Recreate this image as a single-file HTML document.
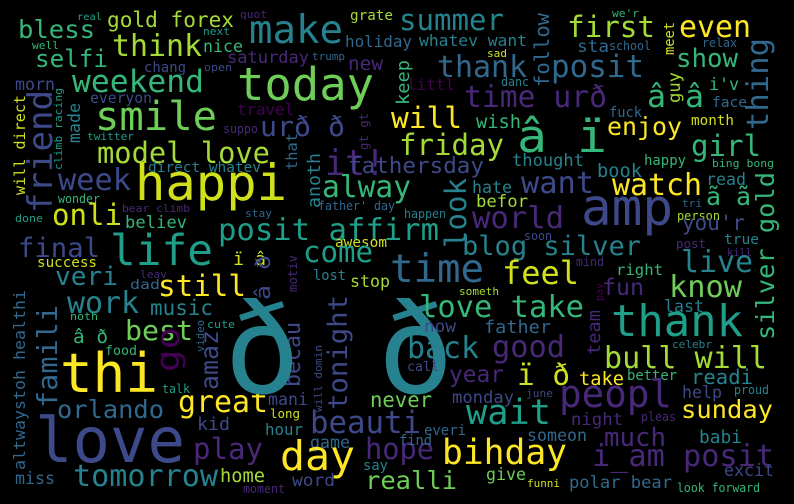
<!DOCTYPE html>
<html><head><meta charset="utf-8">
<style>
html,body{margin:0;padding:0;background:#000;}
svg{display:block;}
text{font-family:"DejaVu Sans Mono","Liberation Mono",monospace;}
</style></head>
<body>
<svg id="cloud" width="794" height="504" viewBox="0 0 794 504">
<rect width="794" height="504" fill="#000"/>
</svg>
<script>
const palette = {Y:"#fde725",y:"#d0e11c",L:"#a5db36",G:"#6ece58",g:"#35b779",T:"#1f9e89",t:"#26828e",B:"#31688e",b:"#3e4989",P:"#482878",p:"#440154"};
// [text, x, y, width, fontSize, color, vertical]
const words = [
["bless",18,38,77,25,"g",0],["gold forex",107,27,127,21,"L",0],["real",77,20,25,10,"T",0],
["quot",240,18,27,11,"P",0],["next",203,35,27,11,"T",0],["well",32,49,27,11,"g",0],
["nice",203,52,40,17,"g",0],["think",112,56,90,30,"L",0],["make",249,43,94,39,"t",0],
["selfi",35,67,73,24,"g",0],["saturday",227,63,82,17,"P",0],["trump",312,60,33,11,"B",0],
["holiday",345,47,67,16,"B",0],["grate",350,20,43,14,"L",0],["new",348,70,35,19,"P",0],
["chang",144,72,42,14,"b",0],["open",204,71,28,11,"b",0],["weekend",72,92,132,31,"g",0],
["today",237,100,137,45,"G",0],["morn",15,90,40,17,"b",0],["everyon",90,103,62,15,"b",0],
["smile",95,130,122,40,"G",0],["urð ð",260,136,85,28,"b",0],["travel",237,115,57,16,"p",0],
["suppo",223,133,35,12,"P",0],["twitter",87,140,47,11,"T",0],
["will direct",25,195,100,15,"y",1],["friend",52,213,123,34,"b",1],["climb racing",62,170,82,11,"T",1],
["made",80,143,40,17,"t",1],["model love",97,163,173,29,"L",0],["direct whatev",148,172,113,14,"t",0],
["week",58,190,73,30,"b",0],["happi",135,200,152,50,"y",0],["it!",325,175,60,36,"P",0],
["alway",322,197,89,30,"g",0],["fathersday",348,173,136,22,"b",0],["anoth",320,208,55,18,"t",1],
["that",297,170,37,15,"B",1],["gt gt",368,150,37,12,"P",1],["keep",409,105,45,18,"g",1],
["wonder",58,203,42,12,"g",0],["done",15,222,28,11,"T",0],["onli",52,225,70,29,"y",0],
["bear climb",122,212,68,11,"P",0],["believ",125,228,62,17,"g",0],["stay",245,217,27,11,"B",0],
["father' day",318,210,77,12,"B",0],["posit affirm",218,240,221,30,"T",0],["awesom",335,247,52,14,"y",0],
["final",18,257,82,27,"b",0],["life",110,265,103,43,"T",0],["come",303,262,70,29,"T",0],["ï â",233,265,33,18,"y",0],
["success",37,267,60,14,"y",0],["leav",140,278,27,11,"P",0],["motiv",297,292,37,12,"P",1],
["lost",313,280,33,14,"t",0],["stop",350,287,40,17,"L",0],["veri",55,285,63,26,"t",0],
["still",158,296,88,29,"Y",0],["â ð",270,300,45,20,"b",1],["dad",130,289,30,13,"B",0],["work",67,313,72,30,"t",0],
["music",150,315,63,21,"t",0],["famili",57,408,103,28,"B",1],["altwaystoh healthi",25,470,180,16,"B",1],
["noth",70,320,28,11,"g",0],["â ð",73,343,35,19,"g",0],["best",125,340,68,28,"G",0],["cute",207,328,28,11,"T",0],
["go",179,372,45,32,"p",1],["amaz",218,390,60,25,"b",1],["video",204,352,32,11,"B",1],["food",105,355,32,13,"g",0],
["thi",60,392,98,54,"Y",0],["talk",162,393,28,12,"T",0],["becau",300,387,65,22,"b",1],["will domin",322,412,67,11,"b",1],
["tonight",347,410,115,27,"b",1],["great",178,412,90,30,"Y",0],["mani",268,405,40,17,"b",0],["long",270,418,30,12,"y",0],
["orlando",57,418,107,25,"B",0],["kid",197,430,33,18,"b",0],["hour",265,435,38,16,"t",0],["game",310,448,40,17,"B",0],
["love",35,462,150,62,"b",0],["play",193,459,70,29,"P",0],["day",280,470,75,41,"Y",0],["say",363,470,25,14,"t",0],
["miss",15,484,40,17,"B",0],["tomorrow",73,486,145,30,"t",0],["home",220,482,45,19,"L",0],["word",292,486,43,17,"b",0],
["moment",243,493,42,12,"P",0],["beauti",310,433,111,31,"b",0],["hope",365,459,69,29,"P",0],["realli",365,489,92,25,"G",0],
["never",370,407,62,21,"G",0],
["summer",399,30,105,29,"t",0],["whatev want",419,46,108,16,"t",0],["thank",437,77,90,30,"B",0],["posit",551,77,93,31,"B",0],
["follow",549,87,74,20,"B",1],["first",567,37,88,29,"L",0],["we'r",612,17,27,11,"g",0],["even",679,37,72,30,"Y",0],
["meet",674,55,33,14,"y",1],["sta",577,52,32,17,"B",0],["school",609,50,42,12,"B",0],["relax",702,47,35,12,"B",0],
["show",676,67,62,26,"g",0],["thing",768,130,92,30,"B",1],["sad",487,57,20,11,"y",0],["littl",407,90,48,16,"p",0],
["danc",501,86,28,12,"t",0],["guy",680,103,31,17,"L",1],["i'v",709,90,30,17,"g",0],["face",712,107,35,14,"B",0],
["time urð",464,107,143,30,"P",0],["â â",647,107,57,31,"g",0],["fuck",609,117,33,14,"B",0],["month",691,125,43,14,"y",0],
["will",391,128,71,29,"Y",0],["wish",476,128,45,19,"g",0],["â ï",517,152,90,45,"g",0],["enjoy",607,135,75,25,"Y",0],
["friday",399,155,105,29,"L",0],["girl",691,156,70,29,"g",0],["thought",512,166,72,17,"t",0],["happy",644,165,42,14,"g",0],
["bing bong",712,167,62,11,"g",0],["book",597,177,45,19,"t",0],["watch",612,195,90,30,"Y",0],["want",521,193,73,30,"b",0],
["hate",472,193,40,17,"t",0],["read",706,185,40,17,"t",0],["silver gold",774,340,168,25,"g",1],["look",466,248,70,29,"t",1],
["befor",476,207,52,17,"L",0],["ã ã",706,205,45,25,"g",0],["amp",581,225,92,51,"b",0],["world",472,228,92,30,"P",0],
["happen",404,218,42,12,"t",0],["tri",682,207,20,11,"B",0],["person",677,220,43,12,"L",0],["you'r",682,230,63,21,"b",0],
["soon",524,240,28,12,"b",0],["true",724,244,35,14,"t",0],["post",676,248,30,12,"P",0],["kill",727,256,25,11,"P",0],
["blog silver",462,255,179,27,"t",0],
["ð ð",224,393,230,125,"t",0],
["time",390,282,94,39,"B",0],["feel",502,284,77,32,"y",0],["mind",576,266,28,12,"P",0],["right",616,275,47,15,"g",0],
["live",681,272,72,30,"t",0],["someth",459,295,40,11,"L",0],["pay",603,301,18,11,"p",1],["fun",602,295,42,23,"P",0],
["know",669,297,73,30,"G",0],["love take",419,317,165,30,"g",0],["last",664,312,40,17,"t",0],["thank",611,336,132,44,"T",0],
["team",600,355,45,18,"P",1],["now",424,332,32,17,"b",0],["father",484,333,67,18,"B",0],["celebr",672,348,40,11,"t",0],
["back",407,358,72,30,"t",0],["good",492,357,73,30,"P",0],["bull will",604,368,163,30,"L",0],["call",407,371,32,13,"b",0],
["year",449,382,55,23,"P",0],["ï ð",517,385,53,29,"y",0],["take",579,385,45,19,"Y",0],["better",627,380,50,14,"g",0],
["readi",691,384,62,20,"t",0],["peopl",559,407,113,38,"P",0],["monday",452,403,62,17,"b",0],["june",526,397,27,11,"b",0],
["help",682,398,40,17,"b",0],["proud",734,394,35,12,"t",0],["wait",466,424,85,35,"T",0],["sunday",681,418,92,25,"Y",0],
["night",571,425,52,17,"P",0],["pleas",641,421,35,12,"P",0],["everi",424,435,42,14,"B",0],["find",399,445,33,14,"B",0],
["someon",527,441,60,17,"B",0],["much",604,446,62,26,"P",0],["babi",699,443,43,18,"t",0],["bihday",442,464,125,35,"Y",0],
["i_am posit",592,466,182,30,"P",0],["give",486,480,40,17,"G",0],["funni",527,487,33,11,"y",0],["polar bear",569,488,103,17,"B",0],
["excit",724,476,50,17,"b",0],["look forward",677,492,83,12,"g",0]
];
const svg = document.getElementById('cloud');
const NS = "http://www.w3.org/2000/svg";
words.forEach(w => {
  const t = document.createElementNS(NS, 'text');
  t.setAttribute('x', w[1]);
  t.setAttribute('y', w[2]);
  t.setAttribute('font-size', w[4]);
  t.setAttribute('fill', palette[w[5]]);
  t.setAttribute('textLength', w[3]);
  t.setAttribute('lengthAdjust', 'spacingAndGlyphs');
  if (w[6]) t.setAttribute('transform', 'rotate(-90 ' + w[1] + ' ' + w[2] + ')');
  
  
  t.textContent = w[0];
  svg.appendChild(t);
});
</script>
</body></html>
